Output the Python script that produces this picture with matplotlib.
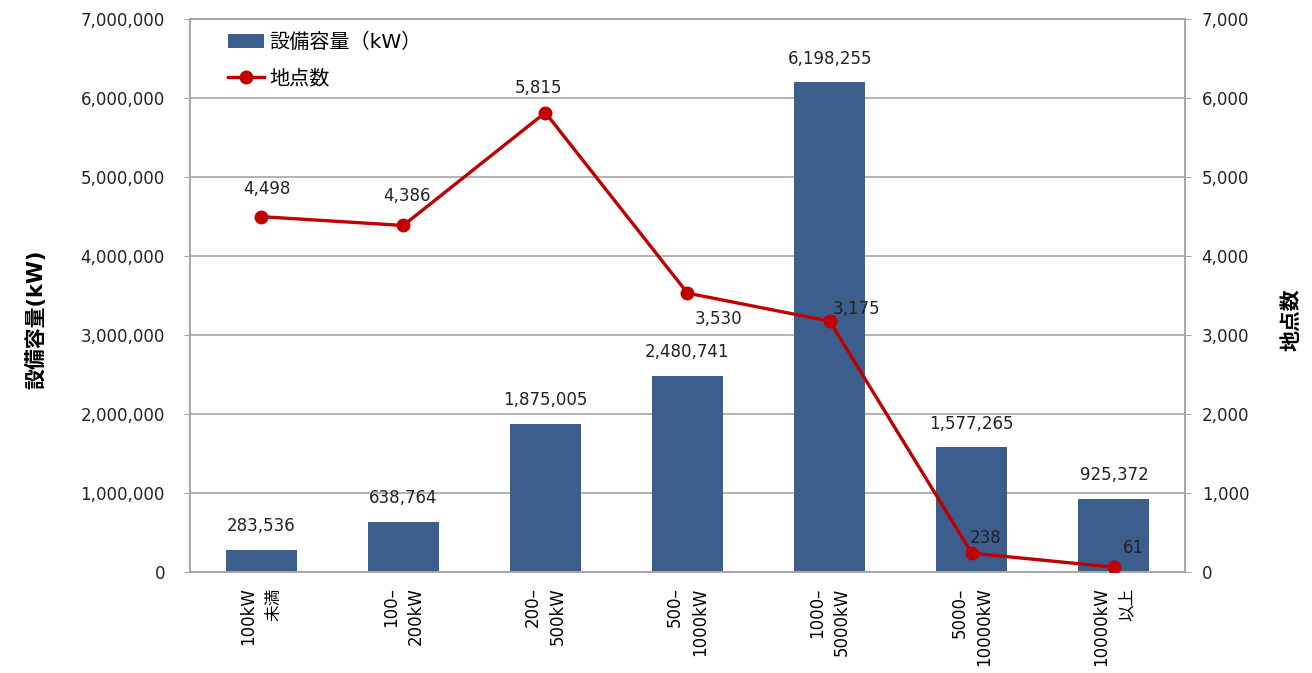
import matplotlib
matplotlib.use("Agg")
import matplotlib.pyplot as plt
from matplotlib.ticker import FuncFormatter, MultipleLocator

plt.rcParams['font.family'] = ['DejaVu Sans', 'Noto Sans CJK JP']

categories = ["100kW\n未満", "100–\n200kW", "200–\n500kW", "500–\n1000kW",
              "1000–\n5000kW", "5000–\n10000kW", "10000kW\n以上"]
capacity_kw = [283536, 638764, 1875005, 2480741, 6198255, 1577265, 925372]
site_counts = [4498, 4386, 5815, 3530, 3175, 238, 61]
# label offsets for the line labels (points)
line_label_offsets = [(4, 20), (3, 21), (-5, 18), (22, -19), (19, 9), (10, 11), (14, 14)]

bar_color = "#3B5E8C"
line_color = "#C00000"
grid_color = "#A6A6A6"

fig = plt.figure(figsize=(13.12, 6.73), dpi=100)
ax = fig.add_axes([0.1448, 0.1501, 0.9032 - 0.1448, 0.9718 - 0.1501])
ax2 = ax.twinx()

x = list(range(len(categories)))
bars = ax.bar(x, capacity_kw, width=0.5, color=bar_color, zorder=2)
ax.set_xlim(-0.5, len(categories) - 0.5)
ax.set_ylim(0, 7000000)
ax.yaxis.set_major_locator(MultipleLocator(1000000))
ax.yaxis.set_major_formatter(FuncFormatter(lambda v, p: f"{int(v):,}"))
ax.grid(axis='y', color=grid_color, linewidth=1.2, zorder=0)
ax.set_axisbelow(True)

line, = ax2.plot(x, site_counts, color=line_color, linewidth=2.4, marker='o',
                 markersize=9, zorder=3)
ax2.set_ylim(0, 7000)
ax2.yaxis.set_major_locator(MultipleLocator(1000))
ax2.yaxis.set_major_formatter(FuncFormatter(lambda v, p: f"{int(v):,}"))

for a in (ax, ax2):
    for s in a.spines.values():
        s.set_color(grid_color)
        s.set_linewidth(1.2)
    a.tick_params(axis='y', labelsize=12, length=4, color=grid_color, labelcolor='#222222')
ax.tick_params(axis='y', pad=14)
ax2.tick_params(axis='y', pad=8)

ax.set_xticks(x)
ax.set_xticklabels(categories, rotation=90, ha='center', va='top',
                   multialignment='right', fontsize=12, linespacing=1.5)
ax.tick_params(axis='x', length=0, pad=11)

for xi, v in zip(x, capacity_kw):
    ax.annotate(f"{v:,}", (xi, v), xytext=(0, 17), textcoords='offset points',
                ha='center', va='center', fontsize=12, color='#222222')

for xi, v, (dx, dy) in zip(x, site_counts, line_label_offsets):
    ax2.annotate(f"{v:,}", (xi, v), xytext=(dx, dy), textcoords='offset points',
                 ha='center', va='center', fontsize=12, color='#222222', zorder=4)

fig.text(0.027, 0.525, "設備容量(kW)", rotation=90, ha='center', va='center',
         fontsize=15, fontweight='bold')
fig.text(0.984, 0.525, "地点数", rotation=90, ha='center', va='center',
         fontsize=15, fontweight='bold')

leg = ax.legend([bars, line], ["設備容量（kW）", "地点数"], loc='upper left',
                bbox_to_anchor=(0.03, 0.99), frameon=False, fontsize=14.5,
                handlelength=1.8, handletextpad=0.25, labelspacing=0.85,
                borderaxespad=0)

fig.savefig("out.png", dpi=100, facecolor='white')
